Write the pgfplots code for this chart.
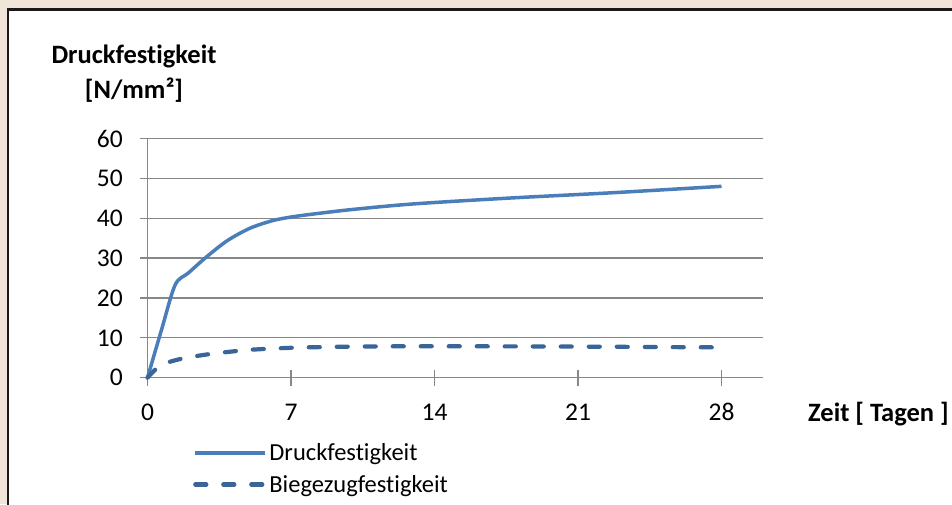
\documentclass[border=0pt]{standalone}
\usepackage{pgfplots}
\pgfplotsset{compat=1.18}
\usepackage{fontspec}
\setmainfont{Carlito}[Ligatures={NoCommon}]
\definecolor{bgbeige}{HTML}{F1E5D9}
\definecolor{gridgray}{HTML}{878787}
\definecolor{blueA}{HTML}{4A7EBB}
\definecolor{blueB}{HTML}{3A6599}
\begin{document}
\begin{tikzpicture}[x=1pt,y=1pt]
\useasboundingbox (0,0) rectangle (952,504);
\fill[bgbeige] (0,0) rectangle (952,504);
\fill[white] (8,-20) rectangle (980,494.5);
\draw[line width=2.5pt, black!90] (8,-20) -- (8,494.5) -- (980,494.5);
% minor ticks (inside)
\begin{axis}[
 at={(147.5pt,126.3pt)}, anchor=south west,
 scale only axis, width=615pt, height=239.2pt,
 xmin=0,xmax=30,ymin=0,ymax=60,
 axis x line*=bottom, axis y line=none,
 axis line style={draw=gridgray, line width=1.3pt},
 xtick=\empty, ytick=\empty,
 minor xtick={1,2,3,4,5,6,8,9,10,11,12,13,15,16,17,18,19,20,22,23,24,25,26,27,29,30},
 tick align=inside, minor tick length=6pt,
 tick style={draw=gridgray, line width=1.3pt},
]
\end{axis}
\begin{axis}[
 at={(147.5pt,126.3pt)}, anchor=south west,
 scale only axis, width=615pt, height=239.2pt,
 xmin=0,xmax=30,ymin=0,ymax=60,
 clip=false,
 axis x line*=bottom, axis y line*=left,
 axis line style={draw=gridgray, line width=1.3pt},
 ymajorgrids, grid style={draw=gridgray, line width=1.3pt},
 xtick={0,7,14,21,28}, ytick={0,10,...,60},
 tick align=center,
 major tick length=16pt,
 tick style={draw=gridgray, line width=1.3pt},
 /pgf/number format/assume math mode=true,
 xticklabel style={font=\fontsize{25.5}{30}\selectfont, anchor=base, inner sep=0pt, yshift=-35pt},
 yticklabel style={font=\fontsize{25.5}{30}\selectfont, anchor=east, inner sep=0pt, xshift=-16.5pt},
 legend style={at={(0.074,-0.267)}, anchor=north west, draw=none, fill=none, inner sep=0pt,
   font=\fontsize{24.5}{29}\selectfont, row sep=9pt, cells={anchor=west}},
 legend image code/.code={\draw[#1] (0pt,0pt) -- (70pt,0pt);},
]
\addplot[blueA, line width=3.5pt, smooth, tension=0.5] coordinates {
 (0,0) (0.7,12.3) (1.35,23.3) (2,26.3) (2.9,30.4) (3.9,34.4) (5,37.5) (6.1,39.4) (7,40.3)
 (8,41.0) (10,42.2) (13,43.6) (17.8,45.1) (22.7,46.4) (28,48)};
\addlegendentry{Druckfestigkeit}
\addplot[blueB, line width=4.2pt, smooth, tension=0.5, dash pattern=on 11pt off 17pt, line cap=round] coordinates {
 (0,0) (0.6,3.0) (1.3,4.3) (2,5.1) (3,5.9) (4,6.5) (5,7.0) (7,7.5) (10,7.8) (14,7.9) (21,7.8) (28,7.6)};
\addlegendentry{Biegezugfestigkeit}
\end{axis}
\node[anchor=base, inner sep=0pt, font=\fontsize{26.5}{30}\selectfont\bfseries] at (134,440) {Druckfestigkeit};
\node[anchor=base, inner sep=0pt, font=\fontsize{26.5}{30}\selectfont\bfseries] at (134,405) {[N/mm²]};
\node[anchor=base west, inner sep=0pt, font=\fontsize{26.5}{30}\selectfont\bfseries] at (808,83) {Zeit [ Tagen ]};
\end{tikzpicture}
\end{document}
